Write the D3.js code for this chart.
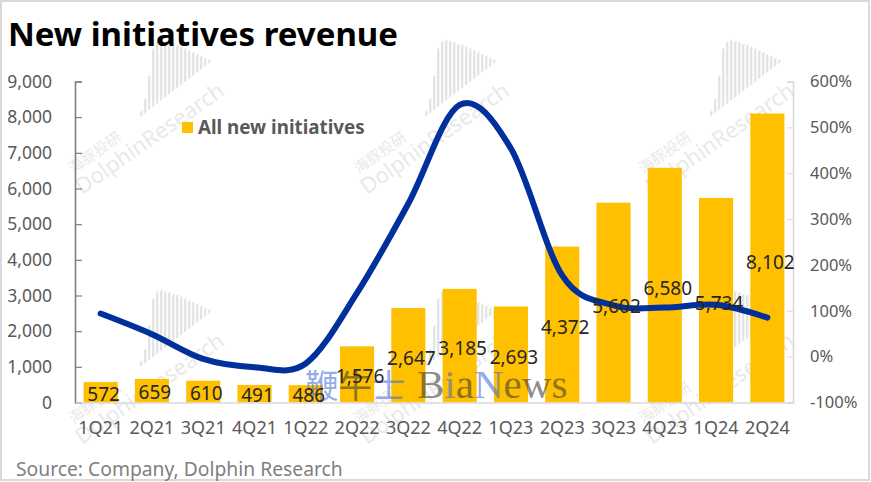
<!DOCTYPE html>
<html>
<head>
<meta charset="utf-8">
<script src="https://cdn.jsdelivr.net/npm/d3@7/dist/d3.min.js"></script>
<style>
html, body { margin: 0; padding: 0; background: #fff; overflow: hidden; }
svg { display: block; font-family: "Noto Sans", "Open Sans", sans-serif; }
</style>
</head>
<body>
<div id="chart"></div>
<script>
const quarters = ["1Q21", "2Q21", "3Q21", "4Q21", "1Q22", "2Q22", "3Q22", "4Q22", "1Q23", "2Q23", "3Q23", "4Q23", "1Q24", "2Q24"];
const revenue = [572, 659, 610, 491, 486, 1576, 2647, 3185, 2693, 4372, 5602, 6580, 5734, 8102];
const growth = [94, 49, -5, -23, -15, 139, 334, 549, 454, 177, 112, 107, 113, 85];
const leftTicks = [0, 1000, 2000, 3000, 4000, 5000, 6000, 7000, 8000, 9000];
const rightTicks = [-100, 0, 100, 200, 300, 400, 500, 600];
const watermarkBars = [5, 14, 34, 58, 62, 60, 56, 52, 47, 43, 38, 33, 28, 23, 18, 13, 8, 3];
const watermarkCols = [0, 1, 2];
const watermarkRows = [0, 1];

const width = 871, height = 482;
const margin = { top: 81.5, right: 78, bottom: 79.5, left: 75 };

const svg = d3.select("#chart").append("svg")
    .attr("width", width)
    .attr("height", height);

svg.append("rect")
    .attr("x", 1).attr("y", 1)
    .attr("width", width - 3).attr("height", height - 3)
    .attr("fill", "#fff")
    .attr("stroke", "#d9d9d9")
    .attr("stroke-width", 2);

const x = d3.scaleBand()
    .domain(quarters)
    .range([margin.left, width - margin.right])
    .paddingInner(0.335)
    .paddingOuter(0.1675);

const yLeft = d3.scaleLinear()
    .domain([0, 9000])
    .range([height - margin.bottom, margin.top]);

const yRight = d3.scaleLinear()
    .domain([-100, 600])
    .range([height - margin.bottom, margin.top]);

// the data labels sit on their own, flatter scale in the original
const yLabel = d3.scaleLinear()
    .domain([0, 9000])
    .range([411, 253]);

// watermarks
const marks = svg.append("g").attr("class", "watermarks");
watermarkRows.forEach(row => {
    watermarkCols.forEach(col => {
        const dx = col * 285, dy = row * 250;

        const icon = marks.append("g")
            .attr("transform", `translate(${140 + dx}, ${117 + dy}) skewY(-38)`);
        icon.selectAll("rect")
            .data(watermarkBars)
            .join("rect")
            .attr("x", (_, i) => i * 4)
            .attr("y", d => -d)
            .attr("width", 2.4)
            .attr("height", d => d)
            .attr("fill", "#e4e4e4");

        const g = marks.append("g")
            .attr("transform", `translate(${82 + dx}, ${195 + dy}) rotate(-35)`);
        g.append("text")
            .attr("font-size", 22)
            .attr("fill", "#e9e9e9")
            .text("DolphinResearch");
        g.append("text")
            .attr("x", 5)
            .attr("y", -22)
            .attr("font-size", 15)
            .attr("font-family", "Noto Sans CJK SC")
            .attr("fill", "#e9e9e9")
            .text("海豚投研");
    });
});

// bars
svg.append("g")
    .selectAll("rect")
    .data(revenue)
    .join("rect")
    .attr("x", (_, i) => x(quarters[i]))
    .attr("y", d => yLeft(d))
    .attr("width", x.bandwidth())
    .attr("height", d => yLeft(0) - yLeft(d))
    .attr("fill", "#ffc000");

// axes
const axisLeft = svg.append("g")
    .attr("transform", `translate(${margin.left}, 0)`)
    .call(d3.axisLeft(yLeft).tickValues(leftTicks).tickFormat(d3.format(",")).tickSize(-7).tickPadding(23));
axisLeft.select(".domain").attr("stroke", "#7f7f7f").attr("stroke-width", 1.6);
axisLeft.selectAll(".tick line").attr("stroke", "#7f7f7f").attr("stroke-width", 1.2);
axisLeft.selectAll("text").attr("font-size", 17.5).attr("fill", "#595959").attr("font-family", "Noto Sans");

const axisRight = svg.append("g")
    .attr("transform", `translate(${width - margin.right}, 0)`)
    .call(d3.axisRight(yRight).tickValues(rightTicks).tickFormat(d => d + "%").tickSize(-6).tickPadding(17));
axisRight.select(".domain").attr("stroke", "#d9d9d9").attr("stroke-width", 1.6);
axisRight.selectAll(".tick line").attr("stroke", "#d9d9d9");
axisRight.selectAll("text").attr("font-size", 16.5).attr("fill", "#595959").attr("font-family", "Noto Sans");

const axisBottom = svg.append("g")
    .attr("transform", `translate(0, ${height - margin.bottom})`)
    .call(d3.axisBottom(x).tickSize(0).tickPadding(19));
axisBottom.select(".domain").attr("stroke", "#d9d9d9").attr("stroke-width", 1.6);
axisBottom.selectAll("text").attr("font-size", 18).attr("fill", "#595959").attr("font-family", "Noto Sans");

// overlay stamp
const stamp = svg.append("g").attr("opacity", 0.55);
stamp.append("text")
    .attr("x", 305).attr("y", 398)
    .attr("font-size", 33.5)
    .attr("font-family", "Noto Sans CJK SC")
    .selectAll("tspan")
    .data(["鞭", "牛", "士"])
    .join("tspan")
    .attr("fill", (_, i) => i === 1 ? "#333" : "#4169d8")
    .text(d => d);
stamp.append("text")
    .attr("x", 417).attr("y", 398)
    .attr("font-size", 41)
    .attr("font-family", "Liberation Serif")
    .selectAll("tspan")
    .data(["B", "i", "a", "N", "ews"])
    .join("tspan")
    .attr("fill", (_, i) => i === 1 || i === 3 ? "#4169d8" : "#333")
    .text(d => d);

// growth line
const line = d3.line()
    .x((_, i) => x(quarters[i]) + x.bandwidth() / 2)
    .y(d => yRight(d))
    .curve(d3.curveCatmullRom.alpha(0));

svg.append("path")
    .datum(growth)
    .attr("fill", "none")
    .attr("stroke", "#00309c")
    .attr("stroke-width", 6)
    .attr("stroke-linecap", "round")
    .attr("d", line);

// value labels
svg.append("g")
    .selectAll("text")
    .data(revenue)
    .join("text")
    .attr("x", (_, i) => x(quarters[i]) + x.bandwidth() / 2 + 3)
    .attr("y", d => yLabel(d))
    .attr("text-anchor", "middle")
    .attr("font-size", 19)
    .attr("fill", "#262626")
    .text(d => d3.format(",")(d));

// legend
svg.append("rect")
    .attr("x", 182).attr("y", 122)
    .attr("width", 11).attr("height", 11)
    .attr("fill", "#ffc000");
svg.append("text")
    .attr("x", 198).attr("y", 134)
    .attr("font-size", 18.8)
    .attr("font-weight", 700)
    .attr("fill", "#595959")
    .text("All new initiatives");

// title and source
svg.append("text")
    .attr("x", 8).attr("y", 46)
    .attr("font-size", 33)
    .attr("font-weight", 700)
    .attr("fill", "#000")
    .text("New initiatives revenue");
svg.append("text")
    .attr("x", 16).attr("y", 476)
    .attr("font-size", 19.3)
    .attr("fill", "#7f7f7f")
    .text("Source: Company, Dolphin Research");
</script>
</body>
</html>
